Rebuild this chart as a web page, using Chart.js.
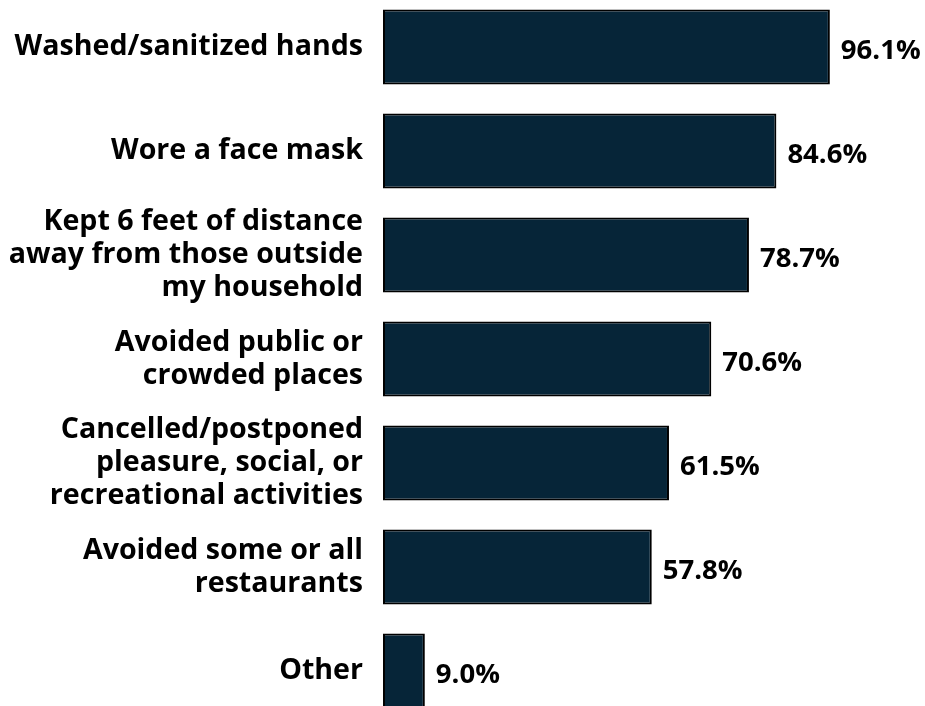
<!DOCTYPE html>
<html>
<head>
<meta charset="utf-8">
<script src="https://cdn.jsdelivr.net/npm/chart.js@4"></script>
<style>
  html, body { margin: 0; padding: 0; background: #fff; overflow: hidden; }
  #wrap { position: absolute; left: 0; top: -5px; width: 925px; height: 728px; }
</style>
</head>
<body>
<div id="wrap"><canvas id="chart"></canvas></div>
<script>
const categories = [
  'Washed/sanitized hands',
  'Wore a face mask',
  ['Kept 6 feet of distance', 'away from those outside', 'my household'],
  ['Avoided public or', 'crowded places'],
  ['Cancelled/postponed', 'pleasure, social, or', 'recreational activities'],
  ['Avoided some or all', 'restaurants'],
  'Other'
];
const values = [96.1, 84.6, 78.7, 70.6, 61.5, 57.8, 9.0];

const FONT = '"Open Sans", sans-serif';

// value labels to the right of each bar
const valueLabels = {
  id: 'valueLabels',
  afterDatasetsDraw(chart) {
    const ctx = chart.ctx;
    const meta = chart.getDatasetMeta(0);
    ctx.save();
    ctx.font = 'bold 27.5px ' + FONT;
    ctx.fillStyle = '#000';
    ctx.textAlign = 'left';
    ctx.textBaseline = 'middle';
    meta.data.forEach((bar, i) => {
      ctx.fillText(values[i].toFixed(1) + '%', bar.x + 11, bar.y + 4);
    });
    ctx.restore();
  }
};

new Chart(document.getElementById('chart'), {
  type: 'bar',
  data: {
    labels: categories,
    datasets: [{
      data: values,
      backgroundColor: '#062538',
      borderColor: '#000',
      borderWidth: 2,
      borderSkipped: false,
      barPercentage: 0.72,
      categoryPercentage: 1
    }]
  },
  options: {
    indexAxis: 'y',
    responsive: true,
    maintainAspectRatio: false,
    animation: false,
    layout: { padding: { left: 0, right: 77, top: 0, bottom: 0 } },
    plugins: { legend: { display: false }, tooltip: { enabled: false } },
    scales: {
      x: { display: false, min: 0, max: 100 },
      y: {
        grid: { display: false, drawTicks: false },
        border: { display: false },
        ticks: {
          color: '#000',
          padding: 20,
          font: { family: FONT, size: 28.6, weight: 'bold', lineHeight: 1.16 }
        },
        afterFit(scale) {
          scale.width = 383;
          scale.paddingTop = 0;
          scale.paddingBottom = 0;
        }
      }
    }
  },
  plugins: [valueLabels]
});
</script>
</body>
</html>
